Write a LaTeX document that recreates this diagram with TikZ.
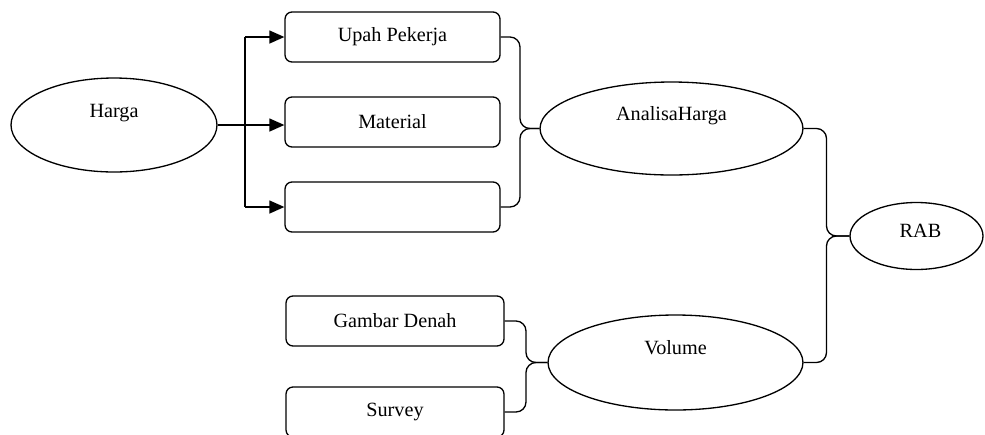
\documentclass[tikz,border=0pt]{standalone}
\usepackage{fontspec}
\setmainfont{Liberation Serif}
\usetikzlibrary{shapes.geometric, arrows.meta, calc}
\tikzstyle{arrow} = [line width=0.75pt,-{Triangle[length=0.3cm,width=0.26cm]}]
\tikzstyle{link} = [line width=0.75pt,rounded corners=0.2cm]

\begin{document}
\begin{tikzpicture}
        [
            x=0.02cm, y=-0.02cm,
            font=\fontsize{11.5}{13.5}\selectfont,
            box/.style={rectangle,rounded corners=0.14cm,draw=black,line width=0.75pt,
                        minimum width=4.3cm,minimum height=1cm},
            oval/.style={ellipse,draw=black,line width=0.75pt,inner sep=0pt},
        ]
    \useasboundingbox (0,0) rectangle (985,434);

    % harga dan komponennya
    \node[oval,minimum width=4.12cm,minimum height=1.88cm,
          label={[yshift=0.24cm]center:Harga}] (harga) at (114,125) {};
    \node[box] (upah) at (392.5,37) {Upah Pekerja};
    \node[box] (material) at (392.5,122) {Material};
    \node[box] (kosong) at (392.5,207) {};

    \node[oval,minimum width=5.26cm,minimum height=1.86cm,
          label={[yshift=0.26cm]center:AnalisaHarga}] (analisa) at (671.5,128.5) {};
    \node[oval,minimum width=2.66cm,minimum height=1.34cm,
          label={[yshift=0.1cm,xshift=0.08cm]center:RAB}] (rab) at (916.5,236) {};

    % volume
    \node[box,minimum width=4.36cm] (gambar) at (395,321) {Gambar Denah};
    \node[box,minimum width=4.36cm] (survey) at (395,412) {Survey};
    \node[oval,minimum width=5.1cm,minimum height=1.9cm,
          label={[yshift=0.3cm]center:Volume}] (volume) at (675.5,362.5) {};

    % panah dari harga
    \coordinate (t1) at (245,37);
    \coordinate (t2) at (245,207);
    \draw[line width=0.75pt] (t1) -- (t2);
    \draw[arrow] (t1) -- (upah.west);
    \draw[arrow] (t2) -- (kosong.west);
    \draw[arrow] (harga.east) -- (harga.east -| material.west);

    % kurung penghubung
    \draw[link] (upah.east) -| ($(upah.east)!.5!(analisa.west)$) |- (analisa.west);
    \draw[link] (kosong.east) -| ($(kosong.east)!.5!(analisa.west)$) |- (analisa.west);
    \draw[link] (analisa.east) -| ($(analisa.east)!.5!(rab.west)$) |- (rab.west);
    \draw[link] (volume.east) -| ($(volume.east)!.5!(rab.west)$) |- (rab.west);
    \draw[link] (gambar.east) -| ($(gambar.east)!.5!(volume.west)$) |- (volume.west);
    \draw[link] (survey.east) -| ($(survey.east)!.5!(volume.west)$) |- (volume.west);
\end{tikzpicture}
\end{document}
